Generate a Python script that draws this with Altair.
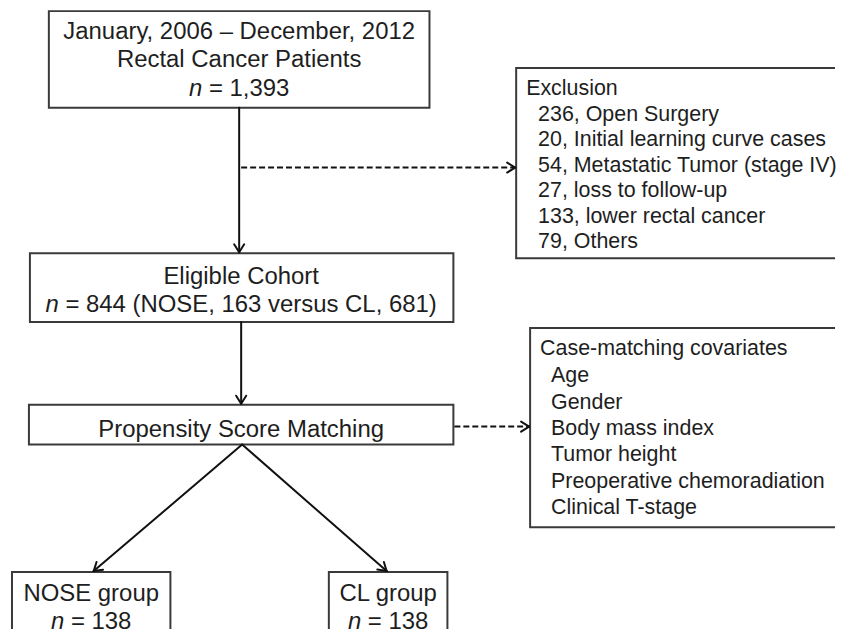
import altair as alt
import pandas as pd
import numpy as np

# ---------------- content ----------------
box1_lines = ["January, 2006 – December, 2012", "Rectal Cancer Patients"]
box1_n = "1,393"
box2_lines = ["Eligible Cohort"]
box2_n = "844 (NOSE, 163 versus CL, 681)"
box3_lines = ["Propensity Score Matching"]
nose_lines = ["NOSE group"]
nose_n = "138"
cl_lines = ["CL group"]
cl_n = "138"
exclusion_title = "Exclusion"
exclusion_counts = [236, 20, 54, 27, 133, 79]
exclusion_reasons = ["Open Surgery", "Initial learning curve cases",
                     "Metastatic Tumor (stage IV)", "loss to follow-up",
                     "lower rectal cancer", "Others"]
covariates_title = "Case-matching covariates"
covariates = ["Age", "Gender", "Body mass index", "Tumor height",
              "Preoperative chemoradiation", "Clinical T-stage"]

# ---------------- layout (diagram coordinates, px) ----------------
box_x0 = [49, 30, 29, 12, 330, 518, 532]
box_x1 = [431, 455, 455, 171, 449, 860, 860]
box_y0 = [10, 253, 405, 573, 573, 67, 328]
box_y1 = [107, 322, 445, 660, 660, 258, 528]

solid_arrows = [((240, 107), (240, 252)), ((242, 322), (242, 404)),
                ((243, 445), (94, 572)), ((243, 445), (388, 572))]
dashed_arrows = [((242, 167), (517, 167)), ((456, 427), (531, 427))]

BIG = 24
SMALL = 21.5
FONT = "Liberation Sans"
TXT = "#1e1e1e"

# Arial advance widths (per 1000 em) for the characters on "n = ..." lines
AW = {'n': 556, ' ': 278, '=': 584, ',': 278, '(': 333, ')': 333, 'N': 722,
      'O': 778, 'S': 667, 'E': 667, 'v': 500, 'e': 556, 'r': 333, 's': 500,
      'u': 556, 'C': 722, 'L': 556}
for d in "0123456789":
    AW[d] = 556


def tw(s, size):
    return sum(AW.get(c, 556) for c in s) * size / 1000.0


center_rows = []
left_rows = []
italic_rows = []


def add_box_text(cx, lines, baselines, nval=None, nbase=None):
    for t, b in zip(lines, baselines):
        center_rows.append({"x": cx, "y": b, "t": t})
    if nval is not None:
        rest = "= " + nval
        W = tw("n", BIG) + tw(" ", BIG) + tw(rest, BIG)
        left = cx - W / 2
        italic_rows.append({"x": left + tw("n", BIG), "y": nbase, "t": "n"})
        left_rows.append({"x": left + tw("n", BIG) + tw(" ", BIG), "y": nbase,
                          "t": rest})


add_box_text(240, box1_lines, [37.5, 66.5], box1_n, 95.5)
add_box_text(242, box2_lines, [284], box2_n, 312)
add_box_text(242, box3_lines, [437])
add_box_text(91.5, nose_lines, [602], nose_n, 630)
add_box_text(389.5, cl_lines, [602], cl_n, 630)

small_rows = [{"x": 528, "y": 94, "t": exclusion_title}]
for i, (c, r) in enumerate(zip(exclusion_counts, exclusion_reasons)):
    small_rows.append({"x": 540, "y": 119.8 + 25.6 * i, "t": f"{c}, {r}"})
small_rows.append({"x": 542, "y": 355, "t": covariates_title})
for i, c in enumerate(covariates):
    small_rows.append({"x": 553, "y": 382.5 + 26.5 * i, "t": c})

boxes = pd.DataFrame({"x0": box_x0, "x1": box_x1, "y0": box_y0, "y1": box_y1})


def seg_rows(arrows):
    rows = []
    for (sx, sy), (ex, ey) in arrows:
        rows.append({"x": sx, "y": sy, "x2": ex, "y2": ey})
    return rows


def head_rows(arrows, L=9.5, ang=32):
    rows = []
    a = np.deg2rad(ang)
    for (sx, sy), (ex, ey) in arrows:
        d = np.array([ex - sx, ey - sy], float)
        d /= np.linalg.norm(d)
        for s in (a, -a):
            rx = d[0] * np.cos(s) - d[1] * np.sin(s)
            ry = d[0] * np.sin(s) + d[1] * np.cos(s)
            rows.append({"x": ex - L * rx, "y": ey - L * ry, "x2": ex, "y2": ey})
    return rows


solid = pd.DataFrame(seg_rows(solid_arrows) + head_rows(solid_arrows + dashed_arrows))
dashed = pd.DataFrame(seg_rows(dashed_arrows))

# page offset: 8px body margin -> plot shows diagram coords 8..838 x 8..630
xs = alt.Scale(domain=[8, 838])
ys = alt.Scale(domain=[8, 630], reverse=True)
X = lambda f: alt.X(f, type="quantitative", scale=xs, axis=None)
Y = lambda f: alt.Y(f, type="quantitative", scale=ys, axis=None)

rects = alt.Chart(boxes).mark_rect(fill="white", stroke="#3a3a3a", strokeWidth=2,
                                   clip=True).encode(
    x=X("x0"), x2="x1", y=Y("y0"), y2="y1")

solid_l = alt.Chart(solid).mark_rule(color="#111111", strokeWidth=2, clip=True,
                                     strokeCap="round").encode(
    x=X("x"), y=Y("y"), x2="x2", y2="y2")
dashed_l = alt.Chart(dashed).mark_rule(color="#111111", strokeWidth=2, clip=True,
                                       strokeDash=[6, 3]).encode(
    x=X("x"), y=Y("y"), x2="x2", y2="y2")

t_center = alt.Chart(pd.DataFrame(center_rows)).mark_text(
    font=FONT, fontSize=BIG, align="center", baseline="alphabetic", color=TXT).encode(
    x=X("x"), y=Y("y"), text="t:N")
t_left = alt.Chart(pd.DataFrame(left_rows)).mark_text(
    font=FONT, fontSize=BIG, align="left", baseline="alphabetic", color=TXT).encode(
    x=X("x"), y=Y("y"), text="t:N")
t_ital = alt.Chart(pd.DataFrame(italic_rows)).mark_text(
    font=FONT, fontSize=BIG, fontStyle="italic", align="right", baseline="alphabetic",
    color=TXT).encode(x=X("x"), y=Y("y"), text="t:N")
t_small = alt.Chart(pd.DataFrame(small_rows)).mark_text(
    font=FONT, fontSize=SMALL, align="left", baseline="alphabetic", color=TXT).encode(
    x=X("x"), y=Y("y"), text="t:N")

chart = alt.layer(rects, solid_l, dashed_l, t_center, t_left, t_ital, t_small).properties(
    width=830, height=622, padding=0, background="white"
).configure_view(stroke=None)

chart.save("out.html", embed_options={"renderer": "svg", "actions": False})
